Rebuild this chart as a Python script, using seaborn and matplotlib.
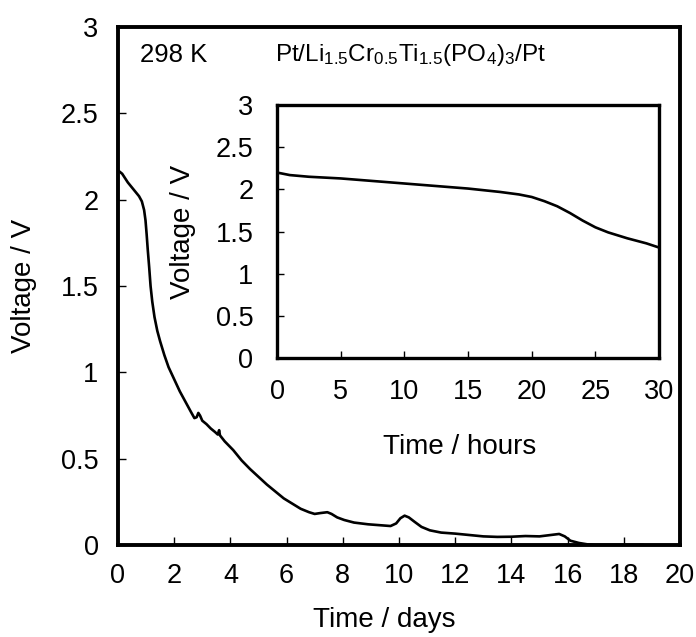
import matplotlib
matplotlib.use("Agg")
import matplotlib.pyplot as plt
import seaborn as sns
import pandas as pd

# Main curve: time (days) vs voltage (V)
days = [0.0, 0.15, 0.35, 0.55, 0.75, 0.85, 0.93, 0.98, 1.02, 1.06, 1.11, 1.16, 1.22, 1.30,
        1.40, 1.50, 1.65, 1.80, 2.0, 2.2, 2.4, 2.6, 2.72, 2.80, 2.86, 2.92, 3.0, 3.15, 3.3,
        3.45, 3.55, 3.60, 3.63, 3.8, 4.1, 4.4, 4.7, 5.0, 5.3, 5.6, 5.9, 6.2, 6.5, 6.8, 7.0,
        7.2, 7.45, 7.6, 7.8, 8.05, 8.4, 8.9, 9.3, 9.7, 9.9, 10.05, 10.2, 10.35, 10.55, 10.8,
        11.1, 11.5, 12.0, 12.5, 13.0, 13.5, 14.0, 14.5, 15.0, 15.4, 15.7, 15.9, 16.1, 16.4,
        16.7, 17.0, 18.0, 18.7]
volts_main = [2.17, 2.15, 2.10, 2.06, 2.02, 1.99, 1.94, 1.88, 1.80, 1.71, 1.61, 1.50, 1.41, 1.32,
              1.24, 1.18, 1.10, 1.03, 0.96, 0.89, 0.83, 0.77, 0.735, 0.74, 0.765, 0.75, 0.72, 0.70,
              0.675, 0.655, 0.64, 0.665, 0.635, 0.60, 0.55, 0.49, 0.44, 0.395, 0.35, 0.31, 0.27,
              0.24, 0.21, 0.19, 0.18, 0.185, 0.19, 0.18, 0.16, 0.145, 0.13, 0.12, 0.115, 0.11,
              0.125, 0.155, 0.17, 0.16, 0.135, 0.105, 0.085, 0.072, 0.066, 0.058, 0.05, 0.047,
              0.048, 0.052, 0.05, 0.058, 0.064, 0.05, 0.025, 0.012, 0.004, 0.0, 0.0, 0.0]

# Inset curve: time (hours) vs voltage (V)
hours = [0, 1, 2.5, 5, 7.5, 10, 12.5, 15, 17.5, 19, 20, 21, 22, 23, 24, 25, 26, 27.5, 29, 30]
volts_inset = [2.20, 2.17, 2.15, 2.13, 2.10, 2.07, 2.04, 2.01, 1.97, 1.94, 1.91, 1.86, 1.80,
               1.72, 1.63, 1.55, 1.49, 1.42, 1.36, 1.31]

main_xticks = [0, 2, 4, 6, 8, 10, 12, 14, 16, 18, 20]
inset_xticks = [0, 5, 10, 15, 20, 25, 30]
yticks = [0, 0.5, 1, 1.5, 2, 2.5, 3]
ytick_labels = ["0", "0.5", "1", "1.5", "2", "2.5", "3"]

sns.set_theme(style="white")
plt.rcParams["font.family"] = ["Liberation Sans", "DejaVu Sans"]
plt.rcParams["mathtext.fontset"] = "custom"
plt.rcParams["mathtext.rm"] = "Liberation Sans"
plt.rcParams["mathtext.default"] = "regular"
plt.rcParams["text.color"] = "black"
plt.rcParams["axes.labelcolor"] = "black"

FS_TICK = 19.5
FS_LAB = 20

fig = plt.figure(figsize=(6.96, 6.37), dpi=100)
ax = fig.add_axes([0.1695, 0.1444, 0.8075, 0.8132])
df_main = pd.DataFrame({"t": days, "v": volts_main})
sns.lineplot(data=df_main, x="t", y="v", ax=ax, color="black", lw=1.9, sort=False)
ax.set_xlim(0, 20)
ax.set_ylim(0, 3)
ax.set_xticks(main_xticks)
ax.set_xticklabels([str(t) for t in main_xticks])
ax.set_yticks(yticks)
ax.set_yticklabels(ytick_labels)
for s in ax.spines.values():
    s.set_linewidth(2.8)
    s.set_color("black")
ax.tick_params(axis="both", which="both", direction="in", length=6, width=1,
               labelsize=FS_TICK, colors="black", bottom=True, left=True, top=False, right=False)
ax.tick_params(axis="x", pad=13)
ax.tick_params(axis="y", pad=14)
ax.set_xlabel("Time / days", fontsize=FS_LAB, color="black")
ax.set_ylabel("Voltage / V", fontsize=FS_LAB, color="black")
ax.xaxis.set_label_coords(0.473, -0.12)
ax.yaxis.set_label_coords(-0.144, 0.5)
ax.text(0.039, 0.946, "298 K", transform=ax.transAxes, fontsize=18.5, va="center", ha="left",
        color="black")
ax.text(0.279, 0.946, r"Pt/Li$_{1.5}$Cr$_{0.5}$Ti$_{1.5}$(PO$_4$)$_3$/Pt",
        transform=ax.transAxes, fontsize=17.5, va="center", ha="left", color="black")

ins = fig.add_axes([0.398, 0.438, 0.549, 0.397])
df_in = pd.DataFrame({"t": hours, "v": volts_inset})
sns.lineplot(data=df_in, x="t", y="v", ax=ins, color="black", lw=1.9, sort=False)
ins.set_xlim(0, 30)
ins.set_ylim(0, 3)
ins.set_xticks(inset_xticks)
ins.set_xticklabels([str(t) for t in inset_xticks])
ins.set_yticks(yticks)
ins.set_yticklabels(ytick_labels)
for s in ins.spines.values():
    s.set_linewidth(2.4)
    s.set_color("black")
ins.tick_params(axis="both", which="both", direction="in", length=5, width=1,
                labelsize=FS_TICK, colors="black", bottom=True, left=True, top=False, right=False)
ins.tick_params(axis="x", pad=15)
ins.tick_params(axis="y", pad=17)
ins.set_xlabel("Time / hours", fontsize=FS_LAB, color="black")
ins.set_ylabel("Voltage / V", fontsize=FS_LAB, color="black")
ins.xaxis.set_label_coords(0.479, -0.3)
ins.yaxis.set_label_coords(-0.212, 0.5)

fig.savefig("out.png", dpi=100)
